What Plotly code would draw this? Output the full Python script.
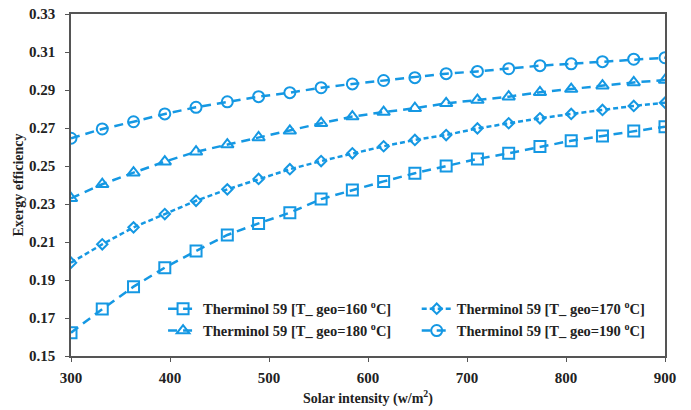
import plotly.graph_objects as go

# Data
solar_intensity = [300 + i * 600 / 19 for i in range(20)]
eff_160 = [0.1623, 0.1747, 0.1865, 0.1965, 0.2053, 0.2137, 0.2198, 0.2254, 0.2326, 0.2374,
           0.2419, 0.2462, 0.2500, 0.2537, 0.2567, 0.2602, 0.2633, 0.2658, 0.2684, 0.2707]
eff_170 = [0.1991, 0.2088, 0.2177, 0.2247, 0.2317, 0.2377, 0.2432, 0.2483, 0.2526, 0.2567,
           0.2604, 0.2637, 0.2663, 0.2698, 0.2725, 0.2751, 0.2774, 0.2795, 0.2816, 0.2833]
eff_180 = [0.2330, 0.2404, 0.2465, 0.2523, 0.2575, 0.2613, 0.2650, 0.2685, 0.2725, 0.2760,
           0.2784, 0.2804, 0.2830, 0.2847, 0.2865, 0.2888, 0.2905, 0.2923, 0.2940, 0.2952]
eff_190 = [0.2646, 0.2695, 0.2733, 0.2774, 0.2809, 0.2838, 0.2865, 0.2886, 0.2912, 0.2932,
           0.2950, 0.2965, 0.2986, 0.2998, 0.3012, 0.3028, 0.3038, 0.3049, 0.3062, 0.3070]
series_names = [
    "Therminol 59 [T_ geo=160 <sup>o</sup>C]",
    "Therminol 59 [T_ geo=170 <sup>o</sup>C]",
    "Therminol 59 [T_ geo=180 <sup>o</sup>C]",
    "Therminol 59 [T_ geo=190 <sup>o</sup>C]",
]
x_ticks = [300, 400, 500, 600, 700, 800, 900]
y_ticks = [0.15, 0.17, 0.19, 0.21, 0.23, 0.25, 0.27, 0.29, 0.31, 0.33]

COLOR = "#1598e3"
FONT = "Liberation Serif"

styles = [
    dict(symbol="square-open", size=11, dash="9px,6px", legend="legend"),
    dict(symbol="diamond-open", size=8, dash="5px,3px", legend="legend2"),
    dict(symbol="triangle-up-open", size=11, dash="9px,6px", legend="legend"),
    dict(symbol="circle-open", size=11, dash="9px,6px", legend="legend2"),
]
data = [eff_160, eff_170, eff_180, eff_190]

fig = go.Figure()
for name, ys, st in zip(series_names, data, styles):
    fig.add_trace(go.Scatter(
        x=solar_intensity, y=ys, name=name, mode="lines+markers",
        legend=st["legend"],
        line=dict(color=COLOR, width=2.5, dash=st["dash"]),
        marker=dict(symbol=st["symbol"], size=st["size"], color=COLOR,
                    line=dict(color=COLOR, width=2)),
    ))

leg_font = dict(family=FONT, size=14.5, color="#222", weight="bold")
fig.update_layout(
    width=691, height=410,
    margin=dict(l=71, r=26, t=14, b=54),
    paper_bgcolor="white", plot_bgcolor="white",
    font=dict(family=FONT, size=14, color="#222", weight="bold"),
    showlegend=True,
    legend=dict(
        orientation="v", x=0.155, y=0.027, xanchor="left", yanchor="bottom",
        bgcolor="rgba(0,0,0,0)", tracegroupgap=0, font=leg_font,
    ),
    legend2=dict(
        orientation="v", x=0.582, y=0.027, xanchor="left", yanchor="bottom",
        bgcolor="rgba(0,0,0,0)", tracegroupgap=0, font=leg_font,
    ),
    xaxis=dict(
        range=[300, 900], tickvals=x_ticks, ticks="outside", ticklen=4,
        tickcolor="#555", showgrid=False, zeroline=False, automargin=False,
        showline=True, linecolor="#555", linewidth=1.5, mirror=True,
        ticklabelstandoff=3,
        tickfont=dict(family=FONT, size=15, weight="bold"),
        title=dict(text="Solar intensity (w/m<sup>2</sup>)", standoff=8,
                   font=dict(family=FONT, size=14, weight="bold")),
    ),
    yaxis=dict(
        range=[0.15, 0.33], tickvals=y_ticks, tickformat=".2f", ticks="outside",
        ticklen=4, tickcolor="#555", showgrid=False, zeroline=False, automargin=False,
        showline=True, linecolor="#555", linewidth=1.5, mirror=True,
        ticklabelstandoff=7,
        tickfont=dict(family=FONT, size=15, weight="bold"),
        title=dict(text="Exergy efficiency", standoff=2,
                   font=dict(family=FONT, size=14, weight="bold")),
    ),
)

fig.write_html("out.html")
